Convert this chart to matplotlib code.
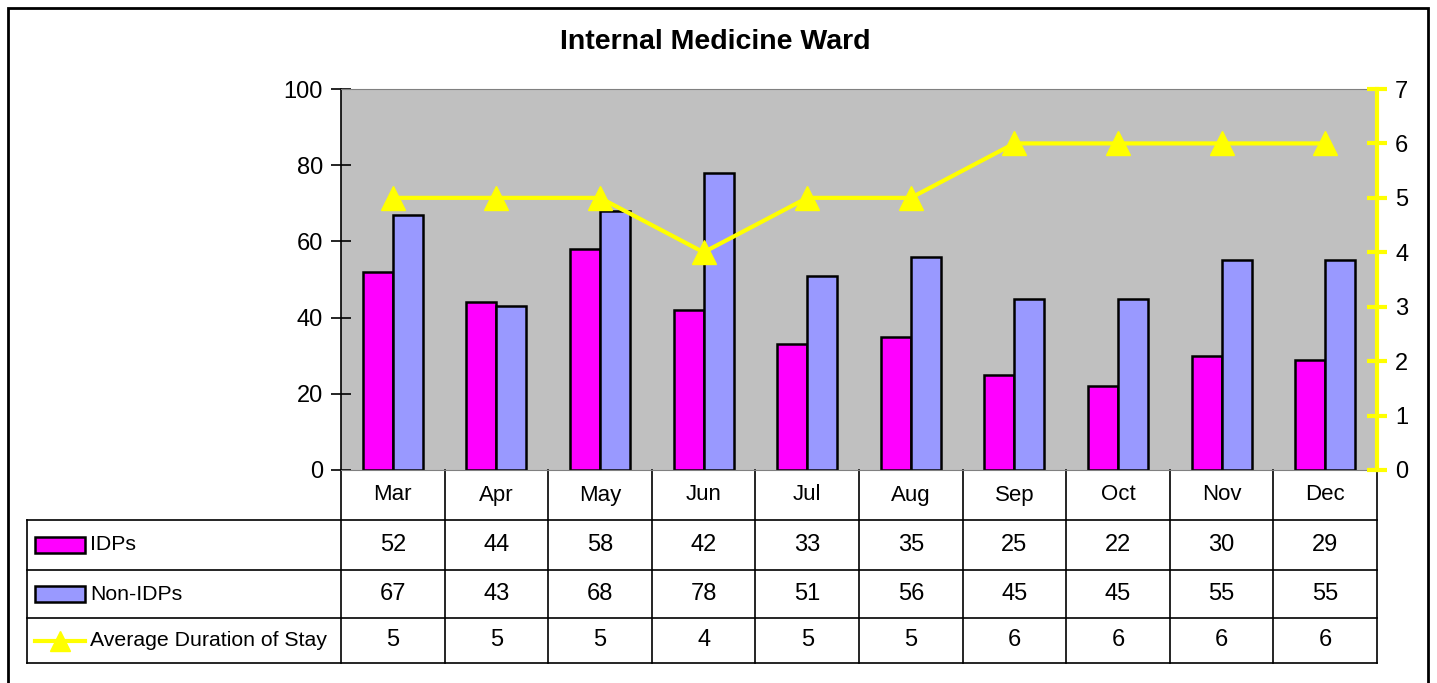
import numpy as np
import matplotlib
matplotlib.use("Agg")
import matplotlib.pyplot as plt
from matplotlib.patches import Rectangle
from matplotlib.lines import Line2D
from matplotlib.transforms import blended_transform_factory

plt.rcParams['font.family'] = ['Liberation Sans', 'DejaVu Sans']

months = ['Mar', 'Apr', 'May', 'Jun', 'Jul', 'Aug', 'Sep', 'Oct', 'Nov', 'Dec']
idps = [52, 44, 58, 42, 33, 35, 25, 22, 30, 29]
non_idps = [67, 43, 68, 78, 51, 56, 45, 45, 55, 55]
avg_stay = [5, 5, 5, 4, 5, 5, 6, 6, 6, 6]
series_names = ['IDPs', 'Non-IDPs', 'Average Duration of Stay']

pink = '#ff00ff'
blue = '#9999ff'
yellow = '#ffff00'

fig = plt.figure(figsize=(14.37, 6.83), dpi=100)
W, H = 1437, 683
ax = fig.add_axes([341 / W, 1 - 470 / H, (1377 - 341) / W, (470 - 89) / H])
ax.set_facecolor('#c0c0c0')

x = np.arange(len(months))
bw = 0.29
ax.bar(x - bw / 2, idps, bw, color=pink, edgecolor='black', lw=1.8, zorder=2)
ax.bar(x + bw / 2, non_idps, bw, color=blue, edgecolor='black', lw=1.8, zorder=2)
ax.set_xlim(-0.5, len(months) - 0.5)
ax.set_ylim(0, 100)
ax.set_yticks(range(0, 101, 20))
ax.tick_params(axis='y', direction='inout', length=14, width=1.2, labelsize=17, pad=6)
ax.set_xticks([])
for s in ['top', 'bottom']:
    ax.spines[s].set_color('#808080')
ax.spines['left'].set_linewidth(1.2)
ax.spines['right'].set_visible(False)

ax2 = ax.twinx()
ax2.plot(x, avg_stay, color=yellow, lw=3, marker='^', ms=17, zorder=3)
ax2.set_ylim(0, 7)
ax2.set_yticks(range(0, 8))
ax2.spines['right'].set_color(yellow)
ax2.spines['right'].set_linewidth(3)
for s in ['top', 'bottom', 'left']:
    ax2.spines[s].set_visible(False)
ax2.tick_params(axis='y', direction='inout', length=14, width=3, color=yellow,
                labelsize=17, pad=6)

# data table below the plot
tr = blended_transform_factory(ax.transData, ax.transAxes)
px = 1 / (470 - 89)
row_edges = [0, -50 * px, -100 * px, -148 * px, -193 * px]
x_left = -0.5 + (27 - 341) / 103.6
x_cols = np.arange(len(months) + 1) - 0.5

def seg(xs, ys, c='black', lw=1.2):
    ax.add_line(Line2D(xs, ys, transform=tr, color=c, lw=lw, clip_on=False))

for xc in x_cols:
    seg([xc, xc], [0, row_edges[-1]])
seg([x_left, x_left], [row_edges[1], row_edges[-1]])
for ye in row_edges[1:]:
    seg([x_left, x_cols[-1]], [ye, ye])

for i, m in enumerate(months):
    ax.text(i, (row_edges[0] + row_edges[1]) / 2, m, transform=tr,
            ha='center', va='center', fontsize=16)

rows = [idps, non_idps, avg_stay]
for r, vals in enumerate(rows):
    yc = (row_edges[r + 1] + row_edges[r + 2]) / 2
    for i, v in enumerate(vals):
        ax.text(i, yc, str(v), transform=tr, ha='center', va='center', fontsize=17)
    ax.text(x_left + 0.61, yc, series_names[r], transform=tr, ha='left',
            va='center', fontsize=15.3)

sw0 = x_left + 0.08
sw1 = x_left + 0.56
sh = 16 * px
for r, c in enumerate([pink, blue]):
    yc = (row_edges[r + 1] + row_edges[r + 2]) / 2
    ax.add_patch(Rectangle((sw0, yc - sh / 2), sw1 - sw0, sh, transform=tr,
                           facecolor=c, edgecolor='black', lw=1.8, clip_on=False))
yc = (row_edges[3] + row_edges[4]) / 2
ax.add_line(Line2D([sw0, sw1], [yc, yc], transform=tr, color=yellow, lw=3,
                   clip_on=False))
ax.add_line(Line2D([(sw0 + sw1) / 2], [yc], transform=tr, color=yellow,
                   marker='^', ms=15, clip_on=False))

fig.text(715 / W, 1 - 42 / H, 'Internal Medicine Ward', ha='center', va='center',
         fontsize=20.5, fontweight='bold')
fig.add_artist(Rectangle((8 / W, -0.01), (1428 - 8) / W, 1 - 8 / H + 0.01,
                         transform=fig.transFigure, fill=False, edgecolor='black',
                         lw=2))

fig.savefig('out.png', dpi=100)
